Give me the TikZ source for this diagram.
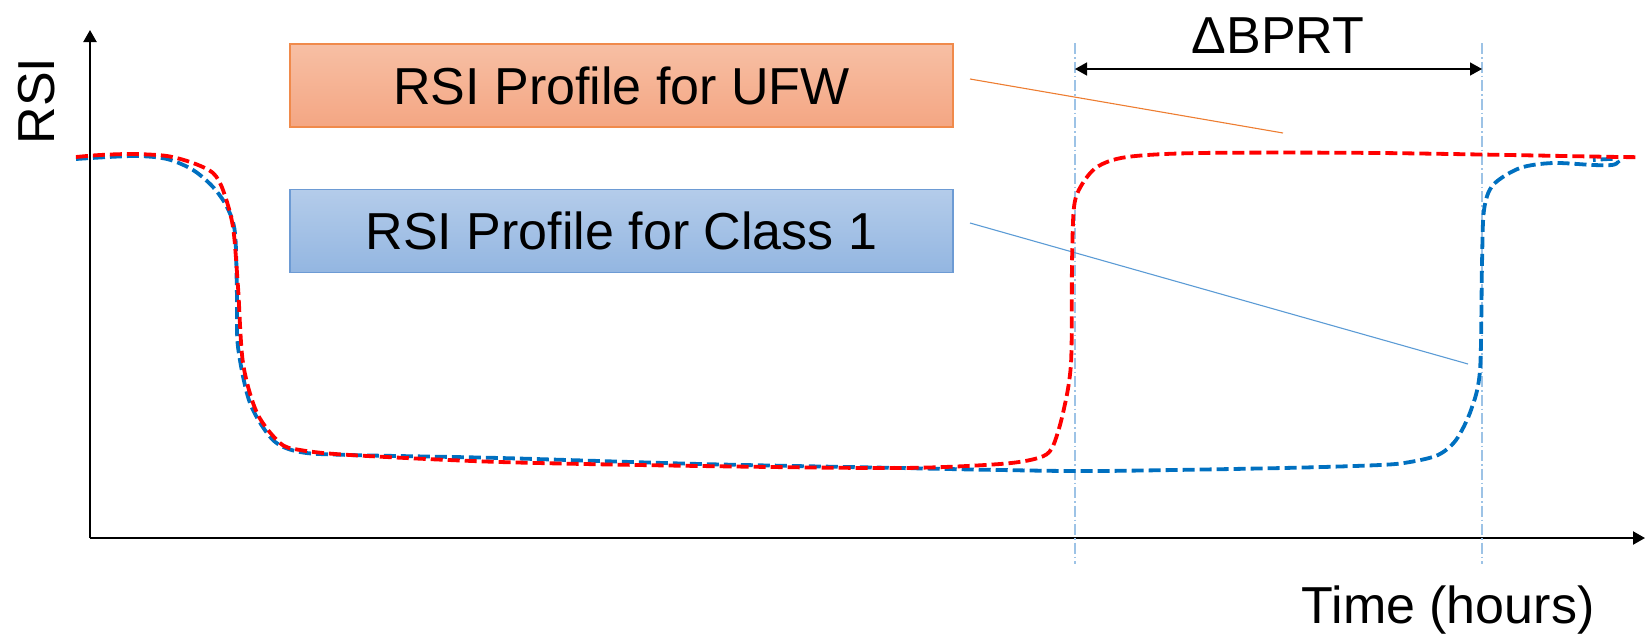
\documentclass[tikz,border=0pt]{standalone}
\usepackage{fontspec}
\setmainfont{Liberation Sans}
\usetikzlibrary{arrows.meta}
\definecolor{ufwred}{HTML}{FF0000}
\definecolor{classblue}{HTML}{0070C0}
\definecolor{ufwedge}{HTML}{F08A4B}
\definecolor{ufwtop}{HTML}{F7BFA4}
\definecolor{ufwbot}{HTML}{F4A683}
\definecolor{clsedge}{HTML}{6D9BD4}
\definecolor{clstop}{HTML}{B4CCEA}
\definecolor{clsbot}{HTML}{93B6E1}
\definecolor{guide}{HTML}{9DC3E6}
\definecolor{leaderorange}{HTML}{ED7D31}
\definecolor{leaderblue}{HTML}{5B9BD5}
\begin{document}
\begin{tikzpicture}[x=1pt,y=-1pt,
  bigtext/.style={font=\fontsize{52pt}{60pt}\selectfont},
  legendbox/.style={bigtext, minimum width=663pt, minimum height=83pt, inner sep=0pt, line width=1.3pt},
  curve/.style={line width=3.8pt, dash pattern=on 12pt off 5pt, smooth, tension=0.5},
  axis/.style={line width=2.2pt, -{Triangle[length=12pt,width=13pt]}},
  guideline/.style={guide, line width=1.3pt, dash pattern=on 11pt off 3pt on 1.5pt off 3pt},
  leader/.style={line width=1.1pt}]
\useasboundingbox (0,0) rectangle (1645,635);

% axes
\coordinate (origin) at (90,538);
\coordinate (ytop) at (90,30);
\coordinate (xend) at (1645,538);
\draw[axis] (origin) -- (ytop);
\draw[axis] (origin) -- (xend);
\node[bigtext, rotate=90] (ylab) at (37,101) {RSI};
\node[bigtext, anchor=base] (xlab) at (1448,623) {Time (hours)};

% legend boxes
\node[legendbox, draw=ufwedge, top color=ufwtop, bottom color=ufwbot] (ufw) at (621.5,85.5) {RSI Profile for UFW};
\node[legendbox, draw=clsedge, top color=clstop, bottom color=clsbot] (cls) at (621.5,231) {RSI Profile for Class 1};

% guide lines marking the breakpoints
\coordinate (g1top) at (1075,43);
\coordinate (g1bot) at (1075,564);
\coordinate (g2top) at (1482,43);
\coordinate (g2bot) at (1482,564);
\draw[guideline] (g1top) -- (g1bot);
\draw[guideline] (g2top) -- (g2bot);
\coordinate (d1) at (1075,69);
\coordinate (d2) at (1482,69);
\draw[line width=1.5pt, {Triangle[length=12pt,width=13pt]}-{Triangle[length=12pt,width=13pt]}] (d1) -- (d2);
\node[bigtext, anchor=base] (dlab) at (1278,53) {ΔBPRT};

% leader lines from the legend
\coordinate (ufwA) at (970,79);
\coordinate (ufwB) at (1283,133);
\draw[leader, leaderorange] (ufwA) -- (ufwB);
\coordinate (clsA) at (970,223);
\coordinate (clsB) at (1468,364);
\draw[leader, leaderblue] (clsA) -- (clsB);

% Class 1 profile
\draw[curve, classblue] plot coordinates {
  (76,159) (133,156) (167,159) (193,170) (213,187) (227,207) (235,233)
  (237,297) (238,347) (250,403) (273,440) (300,452) (350,455) (500,458)
  (700,464) (900,468) (1000,470) (1100,471) (1283,468) (1380,465)
  (1410,462) (1438,455) (1456,440) (1471,410) (1480,370) (1482,263)
  (1484,210) (1493,185) (1520,168) (1553,163) (1593,165) (1612,165)
  (1618,162) (1613,159) (1593,160)};

% UFW profile
\draw[curve, ufwred] plot coordinates {
  (76,157) (100,155) (133,154) (167,156) (193,163) (213,173) (223,190)
  (233,227) (238,287) (243,363) (257,413) (280,443) (300,450) (350,455)
  (500,462) (700,466) (900,468) (1000,464) (1038,458) (1052,448)
  (1063,413) (1071,363) (1072,263) (1074,207) (1081,186) (1097,167)
  (1127,157) (1200,153) (1380,153) (1620,157) (1627,157)};
\end{tikzpicture}
\end{document}
